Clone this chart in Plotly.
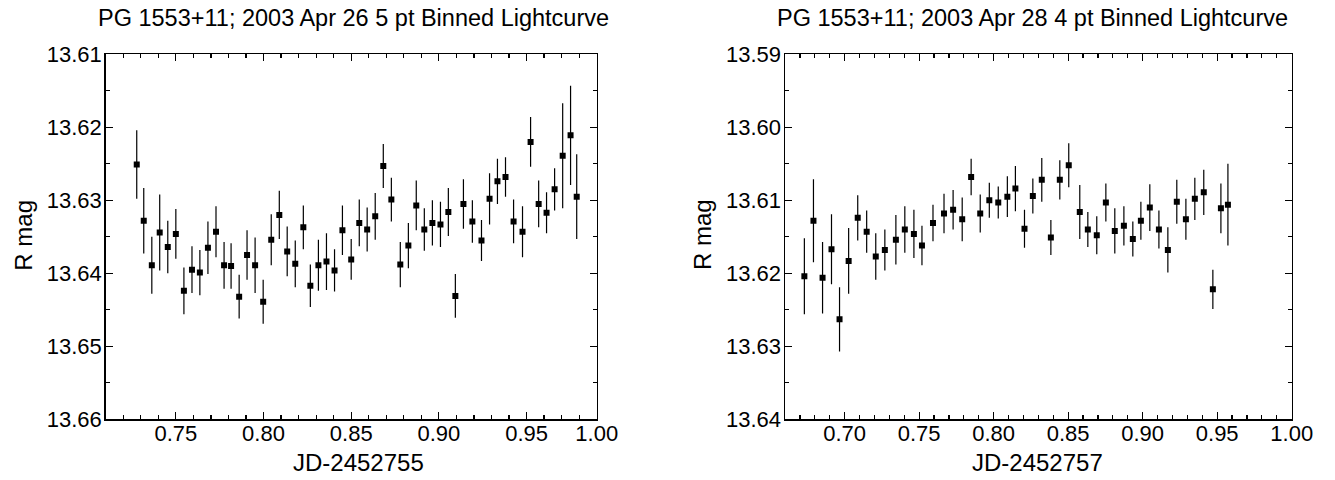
import plotly.graph_objects as go

# ---- Data: 2003 Apr 26 (5 pt binned) ----
jd_apr26 = [0.7277, 0.7317, 0.7363, 0.7408, 0.7454, 0.7500, 0.7546, 0.7592, 0.7637, 0.7683,
            0.7729, 0.7775, 0.7815, 0.7861, 0.7906, 0.7952, 0.7998, 0.8044, 0.8090, 0.8135,
            0.8181, 0.8227, 0.8267, 0.8313, 0.8359, 0.8405, 0.8450, 0.8500, 0.8546, 0.8591,
            0.8637, 0.8683, 0.8729, 0.8780, 0.8826, 0.8871, 0.8917, 0.8963, 0.9009, 0.9054,
            0.9094, 0.9140, 0.9191, 0.9243, 0.9289, 0.9334, 0.9380, 0.9426, 0.9477, 0.9523,
            0.9569, 0.9614, 0.9660, 0.9706, 0.9751, 0.9786]
mag_apr26 = [13.6251, 13.6328, 13.6389, 13.6344, 13.6364, 13.6346, 13.6424, 13.6395, 13.6399, 13.6365,
             13.6343, 13.6389, 13.6390, 13.6432, 13.6375, 13.6389, 13.6439, 13.6354, 13.6320, 13.6370,
             13.6387, 13.6337, 13.6417, 13.6389, 13.6384, 13.6396, 13.6341, 13.6381, 13.6331, 13.6340,
             13.6322, 13.6253, 13.6299, 13.6388, 13.6362, 13.6307, 13.6340, 13.6331, 13.6333, 13.6316,
             13.6431, 13.6305, 13.6329, 13.6355, 13.6298, 13.6274, 13.6268, 13.6329, 13.6343, 13.6220,
             13.6305, 13.6317, 13.6285, 13.6239, 13.6211, 13.6295]
err_apr26 = [0.0047, 0.0045, 0.0039, 0.0052, 0.0036, 0.0034, 0.0032, 0.0032, 0.0031, 0.0036,
             0.0035, 0.0032, 0.0031, 0.0030, 0.0034, 0.0038, 0.0030, 0.0035, 0.0033, 0.0034,
             0.0032, 0.0030, 0.0029, 0.0035, 0.0039, 0.0029, 0.0034, 0.0028, 0.0032, 0.0030,
             0.0032, 0.0030, 0.0030, 0.0031, 0.0031, 0.0034, 0.0029, 0.0031, 0.0031, 0.0033,
             0.0030, 0.0034, 0.0029, 0.0028, 0.0035, 0.0031, 0.0027, 0.0030, 0.0035, 0.0034,
             0.0032, 0.0028, 0.0029, 0.0072, 0.0068, 0.0058]

# ---- Data: 2003 Apr 28 (4 pt binned) ----
jd_apr28 = [0.6730, 0.6791, 0.6852, 0.6912, 0.6966, 0.7027, 0.7088, 0.7148, 0.7209, 0.7270,
            0.7344, 0.7404, 0.7465, 0.7519, 0.7593, 0.7667, 0.7728, 0.7789, 0.7849, 0.7910,
            0.7971, 0.8031, 0.8092, 0.8146, 0.8207, 0.8263, 0.8323, 0.8384, 0.8444, 0.8504,
            0.8578, 0.8632, 0.8692, 0.8753, 0.8813, 0.8874, 0.8934, 0.8988, 0.9048, 0.9109,
            0.9169, 0.9229, 0.9290, 0.9350, 0.9410, 0.9471, 0.9525, 0.9572]
mag_apr28 = [13.6204, 13.6128, 13.6206, 13.6167, 13.6263, 13.6183, 13.6124, 13.6143, 13.6177, 13.6168,
             13.6154, 13.6140, 13.6146, 13.6162, 13.6131, 13.6118, 13.6113, 13.6126, 13.6068, 13.6118,
             13.6100, 13.6103, 13.6095, 13.6084, 13.6139, 13.6094, 13.6072, 13.6151, 13.6072, 13.6052,
             13.6116, 13.6140, 13.6148, 13.6103, 13.6142, 13.6135, 13.6153, 13.6128, 13.6110, 13.6140,
             13.6168, 13.6102, 13.6126, 13.6098, 13.6089, 13.6222, 13.6111, 13.6106]
err_apr28 = [0.0052, 0.0057, 0.0049, 0.0048, 0.0044, 0.0045, 0.0031, 0.0029, 0.0032, 0.0028,
             0.0034, 0.0032, 0.0033, 0.0027, 0.0025, 0.0027, 0.0027, 0.0030, 0.0025, 0.0026,
             0.0024, 0.0022, 0.0028, 0.0031, 0.0026, 0.0024, 0.0030, 0.0024, 0.0027, 0.0030,
             0.0037, 0.0024, 0.0026, 0.0026, 0.0031, 0.0027, 0.0024, 0.0026, 0.0032, 0.0026,
             0.0031, 0.0030, 0.0028, 0.0029, 0.0031, 0.0027, 0.0034, 0.0056]

# ---- Tick labels ----
x1_tickvals = [0.75, 0.80, 0.85, 0.90, 0.95, 0.99]
x1_ticktext = ["0.75", "0.80", "0.85", "0.90", "0.95", "1.00"]
x2_tickvals = [0.70, 0.75, 0.80, 0.85, 0.90, 0.95, 1.00]
x2_ticktext = ["0.70", "0.75", "0.80", "0.85", "0.90", "0.95", "1.00"]
y1_tickvals = [13.61, 13.62, 13.63, 13.64, 13.65, 13.66]
y2_tickvals = [13.59, 13.60, 13.61, 13.62, 13.63, 13.64]

titles = ["PG 1553+11; 2003 Apr 26 5 pt Binned Lightcurve",
          "PG 1553+11; 2003 Apr 28 4 pt Binned Lightcurve"]
xtitles = ["JD-2452755", "JD-2452757"]
ytitle = "R mag"

FONT = "Liberation Sans, Arial, sans-serif"
W, H = 1335, 480

fig = go.Figure()
fig.add_trace(go.Scatter(
    x=jd_apr26, y=mag_apr26, mode="markers",
    marker=dict(symbol="square", size=6, color="black"),
    error_y=dict(type="data", array=err_apr26, visible=True, color="black", thickness=1.2, width=0),
    xaxis="x", yaxis="y", showlegend=False, hoverinfo="skip"))
fig.add_trace(go.Scatter(
    x=jd_apr28, y=mag_apr28, mode="markers",
    marker=dict(symbol="square", size=6, color="black"),
    error_y=dict(type="data", array=err_apr28, visible=True, color="black", thickness=1.2, width=0),
    xaxis="x2", yaxis="y2", showlegend=False, hoverinfo="skip"))

# plot area in pixels
L1, R1 = 105.7, 596.7
L2, R2 = 785.0, 1291.7
T, B = 54.3, 419.3
ydom = [1 - B / H, 1 - T / H]

common = dict(showline=True, linecolor="black", linewidth=1.5, mirror="ticks",
              ticks="inside", ticklen=7, tickwidth=1.2, tickcolor="black",
              showgrid=False, zeroline=False, automargin=False,
              tickfont=dict(family=FONT, size=22, color="black"))
xcommon = dict(common, ticklabelstandoff=-6)
ycommon = dict(common, ticklabelstandoff=-2)

fig.update_layout(
    width=W, height=H,
    margin=dict(l=0, r=0, t=0, b=0, pad=0),
    showlegend=False,
    paper_bgcolor="white", plot_bgcolor="white",
    font=dict(family=FONT, color="black"),
    xaxis=dict(domain=[L1 / W, R1 / W], range=[0.71, 0.99], anchor="y",
               tickmode="array", tickvals=x1_tickvals, ticktext=x1_ticktext,
               minor=dict(dtick=0.01, tick0=0.71, ticks="inside", ticklen=4, tickwidth=1.2, tickcolor="black"),
               **xcommon),
    yaxis=dict(domain=ydom, range=[13.66, 13.61], anchor="x",
               tickmode="array", tickvals=y1_tickvals, tickformat=".2f",
               minor=dict(dtick=0.005, tick0=13.61, ticks="inside", ticklen=4, tickwidth=1.2, tickcolor="black"),
               **ycommon),
    xaxis2=dict(domain=[L2 / W, R2 / W], range=[0.66, 1.00], anchor="y2",
                tickmode="array", tickvals=x2_tickvals, ticktext=x2_ticktext,
                minor=dict(dtick=0.01, tick0=0.66, ticks="inside", ticklen=4, tickwidth=1.2, tickcolor="black"),
                **xcommon),
    yaxis2=dict(domain=ydom, range=[13.64, 13.59], anchor="x2",
                tickmode="array", tickvals=y2_tickvals, tickformat=".2f",
                minor=dict(dtick=0.005, tick0=13.59, ticks="inside", ticklen=4, tickwidth=1.2, tickcolor="black"),
                **ycommon),
)

title_cx = [353.5, 1032.5]
xtitle_cx = [358.3, 1037.8]
ytitle_cx = [L1 - 82, L2 - 82]
ann = []
for i in range(2):
    ann.append(dict(text=titles[i], x=title_cx[i] / W, y=1 - 18 / H, xref="paper", yref="paper",
                    xanchor="center", yanchor="middle", showarrow=False,
                    font=dict(family=FONT, size=23.5, color="black")))
    ann.append(dict(text=xtitles[i], x=xtitle_cx[i] / W, y=1 - 462 / H, xref="paper", yref="paper",
                    xanchor="center", yanchor="middle", showarrow=False,
                    font=dict(family=FONT, size=24, color="black")))
    ann.append(dict(text=ytitle, x=ytitle_cx[i] / W, y=1 - 235 / H, xref="paper", yref="paper",
                    xanchor="center", yanchor="middle", showarrow=False, textangle=-90,
                    font=dict(family=FONT, size=24, color="black")))
fig.update_layout(annotations=ann)

fig.write_html("out.html",
               config={"displayModeBar": False, "staticPlot": True},
               post_script="document.body.style.margin='0px';document.body.style.padding='0px';")
